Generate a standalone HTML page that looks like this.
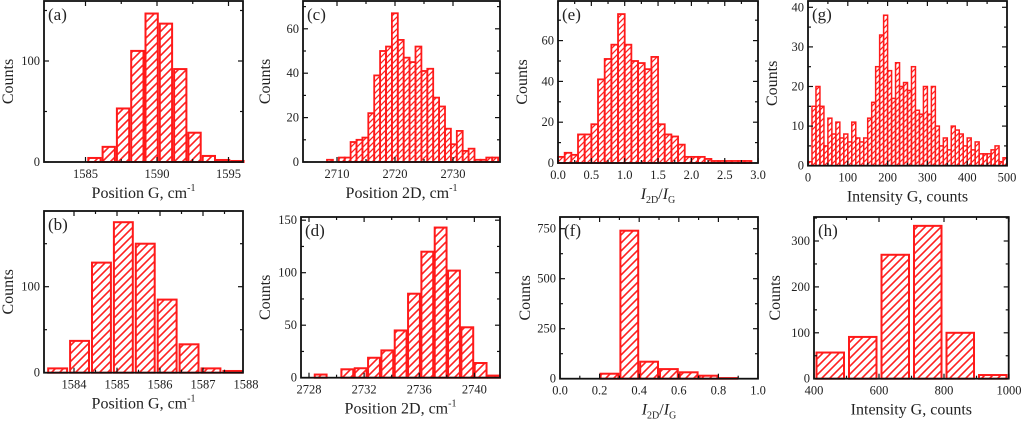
<!DOCTYPE html>
<html><head><meta charset="utf-8"><style>
html,body{margin:0;padding:0;background:#fff;}
svg text{font-family:"Liberation Serif",serif;fill:#222;}
</style></head><body>
<svg id="s" width="1024" height="425" xmlns="http://www.w3.org/2000/svg">
<defs>
<pattern id="h" patternUnits="userSpaceOnUse" width="8" height="8"><path d="M-2,10 L10,-2 M-2,2 L2,-2 M6,10 L10,6" stroke="#ff2020" stroke-width="1.6"/></pattern>
<pattern id="h2" patternUnits="userSpaceOnUse" width="6" height="6"><path d="M-1.5,7.5 L7.5,-1.5 M-1.5,1.5 L1.5,-1.5 M4.5,7.5 L7.5,4.5" stroke="#ff2020" stroke-width="1.3"/></pattern>
</defs>
</svg>
<script>
var S=document.getElementById('s'),o='';
function P(p){
 var B=p.B;
 for(var i=0;i<p.v.length;i++){var v=p.v[i];var x=p.s+i*p.p;var h=v*p.ys;
  if(x+p.p-p.g>p.R+0.5)break;
  o+='<rect x="'+(x+p.g/2)+'" y="'+(B-h)+'" width="'+(p.p-p.g)+'" height="'+h+'" fill="url(#'+(p.pat||'h')+')" stroke="#ff1a1a" stroke-width="'+(p.sw||2)+'"/>';}
 o+='<rect x="'+p.L+'" y="'+p.T+'" width="'+(p.R-p.L)+'" height="'+(B-p.T)+'" fill="none" stroke="#111" stroke-width="1.8"/>';
 function X(v){return p.x0+(v-p.xv)*p.xs;}
 var nx=Math.round((p.xmax-p.xmin)/(p.xm/2));
 for(var k=0;k<=nx;k++){var v=p.xmin+k*p.xm/2;var x=X(v);if(x<p.L-4||x>p.R+4)continue;var maj=(k%2==0);var l=maj?5:3;
  if(x>=p.L-1&&x<=p.R+1)o+='<line x1="'+x+'" y1="'+B+'" x2="'+x+'" y2="'+(B-l)+'" stroke="#111" stroke-width="1.2"/><line x1="'+x+'" y1="'+p.T+'" x2="'+x+'" y2="'+(p.T+l)+'" stroke="#111" stroke-width="1.2"/>';
  if(maj)o+='<text x="'+x+'" y="'+(B+16)+'" font-size="12.5" text-anchor="middle">'+(p.xf?v.toFixed(p.xf):Math.round(v))+'</text>';}
 var ny=Math.floor(p.ymax/(p.ym/2)+1e-6);
 for(var k=0;k<=ny;k++){var v=k*p.ym/2;var y=B-v*p.ys;if(y<p.T-1)continue;var maj=(k%2==0);var l=maj?5:3;
  o+='<line x1="'+p.L+'" y1="'+y+'" x2="'+(p.L+l)+'" y2="'+y+'" stroke="#111" stroke-width="1.2"/><line x1="'+p.R+'" y1="'+y+'" x2="'+(p.R-l)+'" y2="'+y+'" stroke="#111" stroke-width="1.2"/>';
  if(maj)o+='<text x="'+(p.L-4)+'" y="'+(y+4)+'" font-size="12.5" text-anchor="end">'+Math.round(v)+'</text>';}
 o+='<text x="'+(p.L+4)+'" y="'+(p.T+19)+'" font-size="17">'+p.lab+'</text>';
 var cy=(p.T+B)/2;
 o+='<text transform="translate('+p.cx+','+cy+') rotate(-90)" font-size="16" text-anchor="middle">Counts</text>';
 o+='<text x="'+((p.L+p.R)/2)+'" y="'+(B+36)+'" font-size="16" text-anchor="middle">'+p.xt+'</text>';
}
var pg='Position G, cm<tspan font-size="10" dy="-7">-1</tspan>',p2='Position 2D, cm<tspan font-size="10" dy="-7">-1</tspan>',
ig='<tspan font-style="italic">I</tspan><tspan font-size="10" dy="4">2D</tspan><tspan dy="-4">/</tspan><tspan font-style="italic">I</tspan><tspan font-size="10" dy="4">G</tspan>',
it='Intensity G, counts';
P({L:44,R:243,T:1,B:162,s:87.3,p:14.3,g:2,v:[4,15,53,110,147,137,92,29,6,2,1],ys:1.01,x0:85.5,xv:1585,xs:14.3,xmin:1585,xmax:1595,xm:5,ymax:150,ym:100,lab:'(a)',cx:13,xt:pg});
P({L:44,R:243,T:211,B:372.7,s:46.7,p:21.9,g:3,v:[5,37,128,175,150,85,33,5,2],ys:0.86,x0:74,xv:1584,xs:43,xmin:1584,xmax:1588,xm:1,ymax:180,ym:100,lab:'(b)',cx:13,xt:pg});
P({L:303,R:500,T:1,B:162,s:327,p:5.9,g:0,sw:1.8,pat:'h2',v:[1,0,2,2,9,10,11,22,39,50,52,67,55,47,45,52,41,42,29,25,15,8,14,5,6,1,1,2,2],ys:2.22,x0:337,xv:2710,xs:5.8,xmin:2710,xmax:2730,xm:10,ymax:70,ym:20,lab:'(c)',cx:270,xt:p2});
P({L:301,R:500,T:217,B:377.7,s:314,p:13.33,g:1.5,v:[3,0,8,9,19,26,45,80,120,143,102,48,14,2],ys:1.05,x0:309,xv:2728,xs:13.78,xmin:2728,xmax:2740,xm:4,ymax:150,ym:50,lab:'(d)',cx:270,xt:p2});
P({L:558,R:758,T:1,B:163,s:558,p:6.67,g:0,sw:1.8,pat:'h2',v:[3,5,4,14,14,19,41,51,58,73,58,50,49,46,52,19,14,13,9,3,3,3,2,1,1,1,1,1,1],ys:2.04,x0:558,xv:0,xs:66.7,xmin:0,xmax:3,xm:0.5,xf:1,ymax:75,ym:20,lab:'(e)',cx:527,xt:ig});
P({L:560,R:758,T:217,B:378.7,s:560,p:19.8,g:2,v:[0,0,25,740,85,48,32,15,3,0],ys:0.2,x0:560,xv:0,xs:198,xmin:0,xmax:1,xm:0.2,xf:1,ymax:800,ym:250,lab:'(f)',cx:530,xt:ig});
P({L:808,R:1007,T:1,B:165.7,s:808,p:3.98,g:0,sw:1.5,pat:'h2',v:[1,15,20,15,5,12,8,11,7,8,6,11,7,6,7,12,16,25,33,38,24,17,26,20,21,19,25,14,13,20,13,20,10,5,7,4,10,9,8,5,7,4,6,3,3,3,4,5,1,2],ys:3.96,x0:808,xv:0,xs:0.398,xmin:0,xmax:500,xm:100,ymax:40,ym:10,lab:'(g)',cx:777,xt:it});
P({L:814,R:1008.7,T:217,B:378.7,s:814,p:32.5,g:5,v:[57,91,270,333,100,8],ys:0.459,x0:814,xv:400,xs:0.325,xmin:400,xmax:1000,xm:200,ymax:350,ym:100,lab:'(h)',cx:780,xt:it});
S.insertAdjacentHTML('beforeend',o);
</script>
</body></html>
